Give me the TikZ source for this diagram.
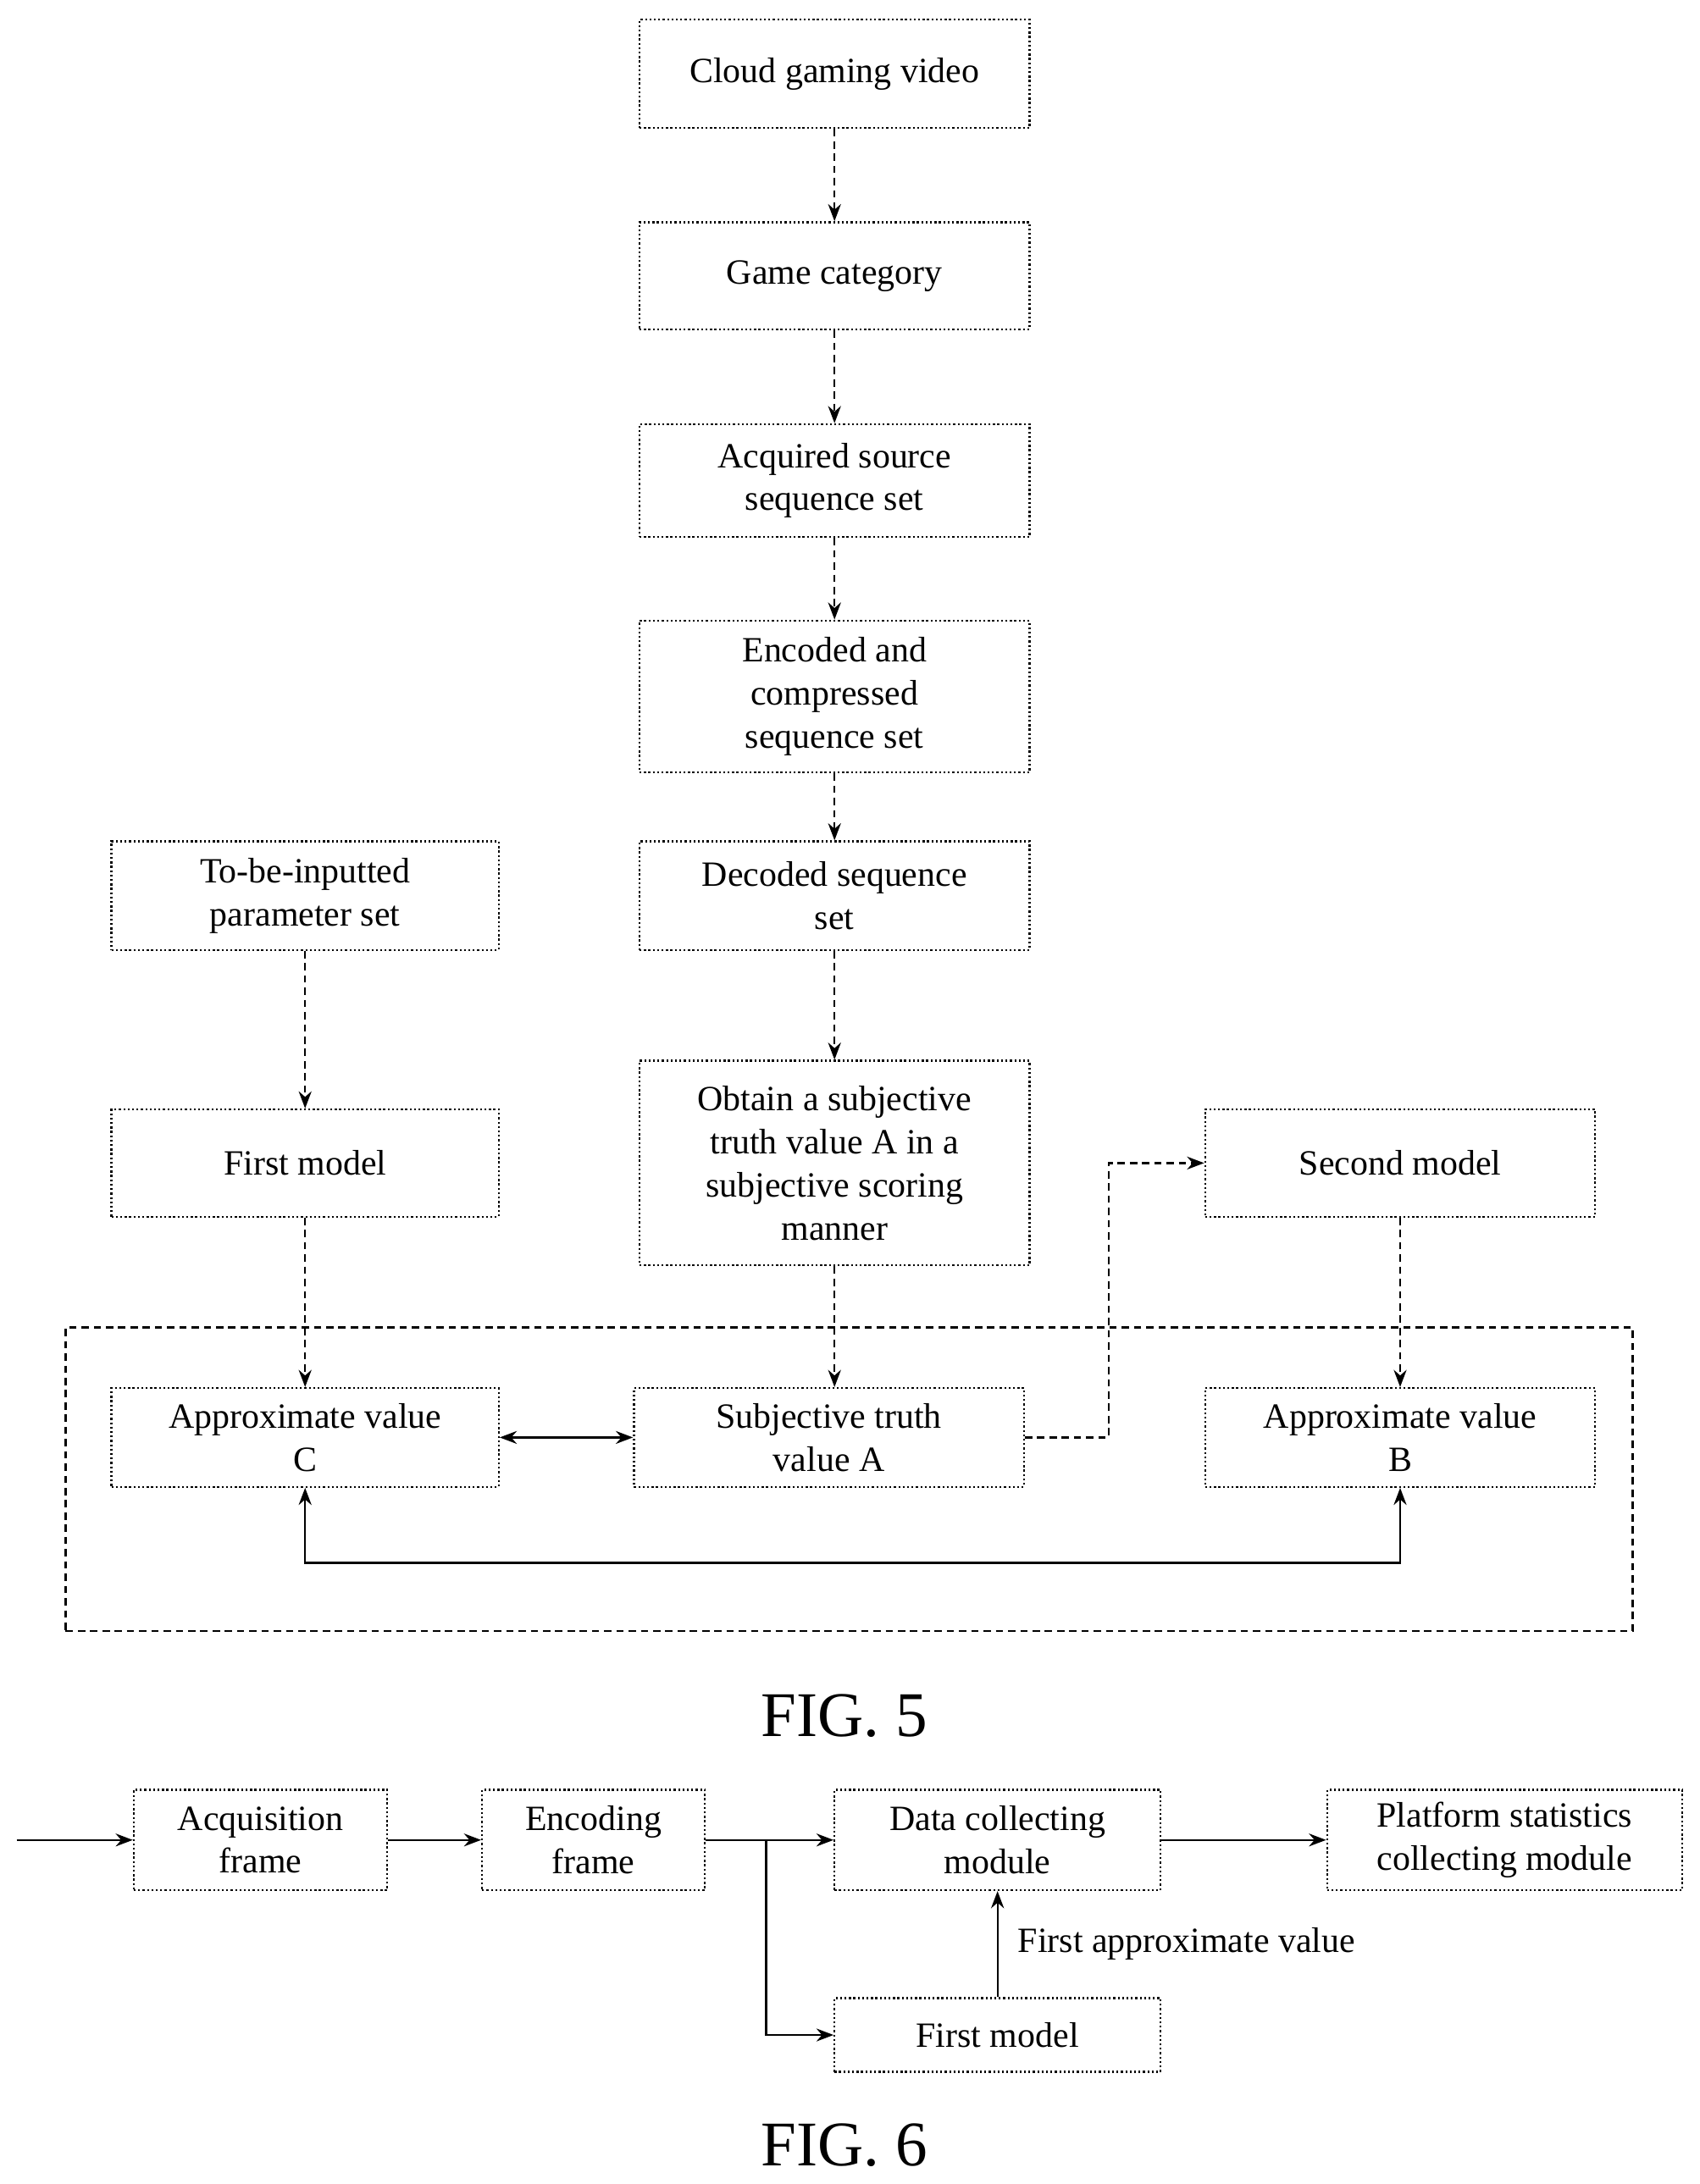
\documentclass[tikz,border=0pt]{standalone}
\usepackage{fontspec}
\setmainfont{Liberation Serif}
\usetikzlibrary{arrows.meta,positioning}
\tikzset{
  box/.style={draw,densely dotted,thick,align=center,inner sep=2pt,
    font=\fontsize{14.5}{17.6}\selectfont},
  flow/.style={densely dashed,thick,-{Stealth[length=7pt]}},
  solid flow/.style={thick,-{Stealth[length=7pt]}},
  fig/.style={font=\fontsize{26}{30}\selectfont}
}
\begin{document}
\begin{tikzpicture}[x=0.02cm,y=-0.02cm]
  \useasboundingbox (0,0) rectangle (1220,1568);
  % FIG. 5 boxes
  \node[box,minimum width=5.6cm,minimum height=1.56cm] (video) at (599,53) {Cloud gaming video};
  \node[box,minimum width=5.6cm,minimum height=1.54cm] (category) at (599,198) {Game category};
  \node[box,minimum width=5.6cm,minimum height=1.62cm] (source) at (599,345) {Acquired source\\sequence set};
  \node[box,minimum width=5.6cm,minimum height=2.18cm] (encoded) at (599,500) {Encoded and\\compressed\\sequence set};
  \node[box,minimum width=5.6cm,minimum height=1.56cm] (decoded) at (599,643) {Decoded sequence\\set};
  \node[box,minimum width=5.56cm,minimum height=1.56cm] (params) at (219,643) {To-be-inputted\\parameter set};
  \node[box,minimum width=5.56cm,minimum height=1.54cm] (first) at (219,835) {First model};
  \node[box,minimum width=5.6cm,minimum height=2.94cm] (obtain) at (599,835) {Obtain a subjective\\truth value A in a\\subjective scoring\\manner};
  \node[box,minimum width=5.6cm,minimum height=1.54cm] (second) at (1005,835) {Second model};
  \node[box,minimum width=5.56cm,minimum height=1.42cm] (valC) at (219,1032) {Approximate value\\C};
  \node[box,minimum width=5.6cm,minimum height=1.42cm] (valA) at (595,1032) {Subjective truth\\value A};
  \node[box,minimum width=5.6cm,minimum height=1.42cm] (valB) at (1005,1032) {Approximate value\\B};
  \node[draw,densely dashed,thick,minimum width=22.5cm,minimum height=4.36cm] (frame) at (609.5,1062) {};
  % FIG. 5 connectors
  \draw[flow] (video) -- (category);
  \draw[flow] (category) -- (source);
  \draw[flow] (source) -- (encoded);
  \draw[flow] (encoded) -- (decoded);
  \draw[flow] (decoded) -- (obtain);
  \draw[flow] (params) -- (first);
  \draw[flow] (first) -- (valC);
  \draw[flow] (obtain.south) -- (obtain.south |- valA.north);
  \draw[flow] (second) -- (valB);
  \draw[thick,{Stealth[length=7pt]}-{Stealth[length=7pt]}] (valC) -- (valA);
  \draw[thick,{Stealth[length=7pt]}-{Stealth[length=7pt]}] (valC.south) |- (612,1122) -| (valB.south);
  \draw[flow] (valA.east) -- ++(60,0) |- (second.west);
  \node[fig] (fig5) at (606,1232) {FIG. 5};
  % FIG. 6
  \node[box,minimum width=3.64cm,minimum height=1.44cm] (acq) at (187,1321) {Acquisition\\frame};
  \node[box,minimum width=3.2cm,minimum height=1.44cm] (enc) at (426,1321) {Encoding\\frame};
  \node[box,minimum width=4.68cm,minimum height=1.44cm] (data) at (716,1321) {Data collecting\\module};
  \node[box,minimum width=5.1cm,minimum height=1.44cm] (platform) at (1080,1321) {Platform statistics\\collecting module};
  \node[box,minimum width=4.68cm,minimum height=1.06cm] (model) at (716,1461) {First model};
  \coordinate (in) at (12,1321);
  \coordinate (split) at (550,1321);
  \draw[solid flow] (in) -- (acq);
  \draw[solid flow] (acq) -- (enc);
  \draw[solid flow] (enc) -- (data);
  \draw[solid flow] (split) |- (model.west);
  \draw[solid flow] (data) -- (platform);
  \draw[solid flow] (model) -- node[right,box,draw=none,xshift=6pt] {First approximate value} (data);
  \node[fig] (fig6) at (606,1540) {FIG. 6};
\end{tikzpicture}
\end{document}
